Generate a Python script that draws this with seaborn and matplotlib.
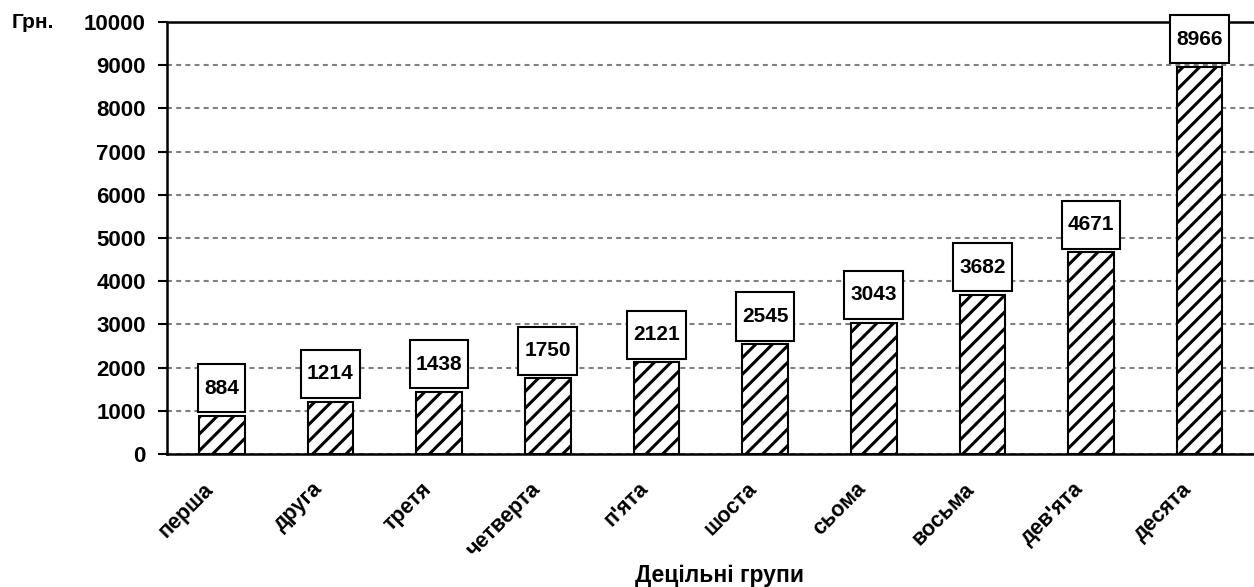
import matplotlib
matplotlib.use("Agg")
import matplotlib.pyplot as plt
import matplotlib.transforms as mtransforms
from matplotlib.path import Path
import seaborn as sns
import pandas as pd

categories = ["перша", "друга", "третя", "четверта", "п'ята", "шоста",
              "сьома", "восьма", "дев'ята", "десята"]
values = [884, 1214, 1438, 1750, 2121, 2545, 3043, 3682, 4671, 8966]
yticks = list(range(0, 10001, 1000))

sns.set_theme(style="white")
plt.rcParams['font.family'] = ['Liberation Sans', 'DejaVu Sans']
plt.rcParams['font.weight'] = 'bold'
plt.rcParams['text.color'] = 'black'
plt.rcParams['xtick.color'] = 'black'
plt.rcParams['ytick.color'] = 'black'
plt.rcParams['axes.labelcolor'] = 'black'
plt.rcParams['hatch.linewidth'] = 2.2
plt.rcParams['hatch.color'] = 'black'


def label_box(x0, y0, width, height, mutation_size):
    px = 0.29 * mutation_size
    py = 0.70 * mutation_size
    xa, xb = x0 - px, x0 + width + px
    ya, yb = y0 - py, y0 + height + py
    return Path([(xa, ya), (xb, ya), (xb, yb), (xa, yb), (xa, ya)],
                [Path.MOVETO, Path.LINETO, Path.LINETO, Path.LINETO, Path.CLOSEPOLY])


fig = plt.figure(figsize=(12.54, 5.87), dpi=100)
ax = fig.add_axes([0.1335, 0.2266, 0.8665, 0.7359])

df = pd.DataFrame({"cat": categories, "val": values})
sns.barplot(data=df, x="cat", y="val", color="white", edgecolor="black",
            linewidth=1.5, width=0.42, ax=ax, saturation=1)
for p in ax.patches:
    p.set_hatch('//')
    p.set_facecolor('white')
    p.set_edgecolor('black')
    p.set_zorder(3)

ax.set_xlim(-0.5, 9.5)
ax.set_ylim(0, 10000)
ax.set_yticks(yticks)
ax.set_yticklabels([str(t) for t in yticks], fontsize=16, fontweight='bold')
ax.yaxis.grid(True, color='#808080', linestyle=(0, (2.4, 2.0)), linewidth=1.5, zorder=0)
ax.set_axisbelow(True)

for i, v in enumerate(values):
    ax.annotate(str(v), (i, v), xytext=(0, 13), textcoords='offset points',
                ha='center', va='bottom', fontsize=15, fontweight='bold',
                zorder=5,
                bbox=dict(boxstyle=label_box, fc='white', ec='black', lw=1.5))

ax.set_xticks(range(len(categories)))
ax.set_xticklabels(categories, rotation=45, ha='right', va='center',
                   rotation_mode='anchor', fontsize=15.5, fontweight='bold')
ax.tick_params(axis='x', length=0, pad=23)
shift = mtransforms.ScaledTranslation(-11 / 100, 0, fig.dpi_scale_trans)
for lab in ax.get_xticklabels():
    lab.set_transform(lab.get_transform() + shift)
ax.tick_params(axis='y', length=6.5, width=1.5, color='black', direction='out', left=True, pad=9)

for s in ['left', 'bottom', 'top']:
    ax.spines[s].set_color('black')
    ax.spines[s].set_linewidth(1.8)
ax.spines['right'].set_visible(False)

ax.set_xlabel("Децільні групи", fontsize=16.5, fontweight='bold')
ax.xaxis.set_label_coords(0.508, -0.254)
ax.set_ylabel("")
fig.text(0.0096, 0.9625, "Грн.", fontsize=15, fontweight='bold', va='center', ha='left')

fig.savefig("out.png", dpi=100)
